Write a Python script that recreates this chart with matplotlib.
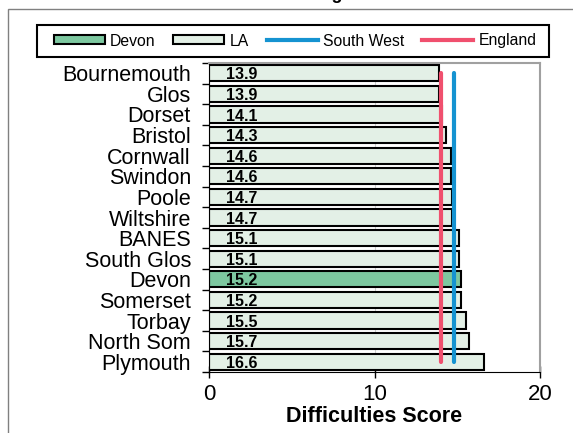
import matplotlib.pyplot as plt
import matplotlib.patches as mpatches
from matplotlib.lines import Line2D
import numpy as np

plt.rcParams['font.family'] = ['Liberation Sans', 'DejaVu Sans']

# Data
las = ['Bournemouth', 'Glos', 'Dorset', 'Bristol', 'Cornwall', 'Swindon', 'Poole',
       'Wiltshire', 'BANES', 'South Glos', 'Devon', 'Somerset', 'Torbay',
       'North Som', 'Plymouth']
scores = [13.9, 13.9, 14.1, 14.3, 14.6, 14.6, 14.7, 14.7, 15.1, 15.1, 15.2, 15.2,
          15.5, 15.7, 16.6]
highlight = 'Devon'
south_west = 14.8
england = 14.0

la_color = '#E3F0E6'
devon_color = '#7DC8A0'
sw_color = '#1593D1'
eng_color = '#F0506E'

fig = plt.figure(figsize=(5.73, 4.33), dpi=100)
W, H = 573, 433
ax = fig.add_axes([209 / W, 1 - 372 / H, (540 - 209) / W, (372 - 63) / H])

y = np.arange(len(las))
colors = [devon_color if la == highlight else la_color for la in las]
ax.barh(y, scores, height=0.78, color=colors, edgecolor='black', linewidth=1.5, zorder=2)

for yi, v in zip(y, scores):
    ax.text(1.05, yi + 0.08, f'{v:.1f}', ha='left', va='center', fontsize=11.5,
            fontweight='bold', zorder=3)

ax.plot([england, england], [y[0], y[-1]], color=eng_color, lw=3,
        solid_capstyle='round', zorder=4)
ax.plot([south_west, south_west], [y[0], y[-1]], color=sw_color, lw=3,
        solid_capstyle='round', zorder=4)

ax.set_xlim(0, 20)
ax.set_ylim(len(las) - 0.5, -0.5)
ax.set_xticks([0, 10, 20])
ax.set_yticks(y)
ax.set_yticklabels(las, fontsize=15.5)
ax.set_yticks(np.arange(-0.5, len(las)), minor=True)
ax.tick_params(axis='y', which='major', length=0, pad=13)
ax.tick_params(axis='y', which='minor', length=5, width=1, direction='out')
ax.tick_params(axis='x', length=8, width=1, direction='inout', labelsize=16, pad=5)
ax.set_xlabel('Difficulties Score', fontsize=15.5, fontweight='bold', labelpad=0)

ax.grid(axis='x', color='#D0D0D0', lw=0.8, zorder=0)
ax.set_axisbelow(True)
ax.spines['left'].set_color('black')
ax.spines['bottom'].set_color('black')
ax.spines['top'].set_color('#A0A0A0')
ax.spines['right'].set_color('#A0A0A0')
ax.spines['top'].set_linewidth(1.5)
ax.spines['right'].set_linewidth(1.5)

handles = [
    mpatches.Patch(facecolor=devon_color, edgecolor='black', linewidth=1.5, label='Devon'),
    mpatches.Patch(facecolor=la_color, edgecolor='black', linewidth=1.5, label='LA'),
    Line2D([0], [0], color=sw_color, lw=3, label='South West'),
    Line2D([0], [0], color=eng_color, lw=3, label='England'),
]
leg = fig.legend(handles=handles, loc='center', ncol=4, fontsize=11.3,
                 bbox_to_anchor=((37 + 549) / 2 / W + 2 / W, 1 - 41 / H),
                 frameon=False,
                 handlelength=3.25, handleheight=0.5, handletextpad=0.35,
                 columnspacing=1.12, borderpad=0.5)

# legend box drawn separately so its width matches
fig.patches.append(mpatches.Rectangle((37 / W, 1 - 57 / H), (549 - 37) / W, 32 / H,
                                      transform=fig.transFigure, fill=False,
                                      edgecolor='black', lw=1.5))

# outer chart border (cut off at right and bottom)
fig.patches.append(mpatches.Rectangle((8 / W, -0.1), 1.2, 1.1 - 9 / H,
                                      transform=fig.transFigure, fill=False,
                                      edgecolor='#808080', lw=1))

# title, cut off at top of image
fig.text(343 / W, 1 + 1 / H, 'LA Ranking', ha='right', va='baseline',
         fontsize=13, fontweight='bold')

fig.savefig('out.png', dpi=100)
